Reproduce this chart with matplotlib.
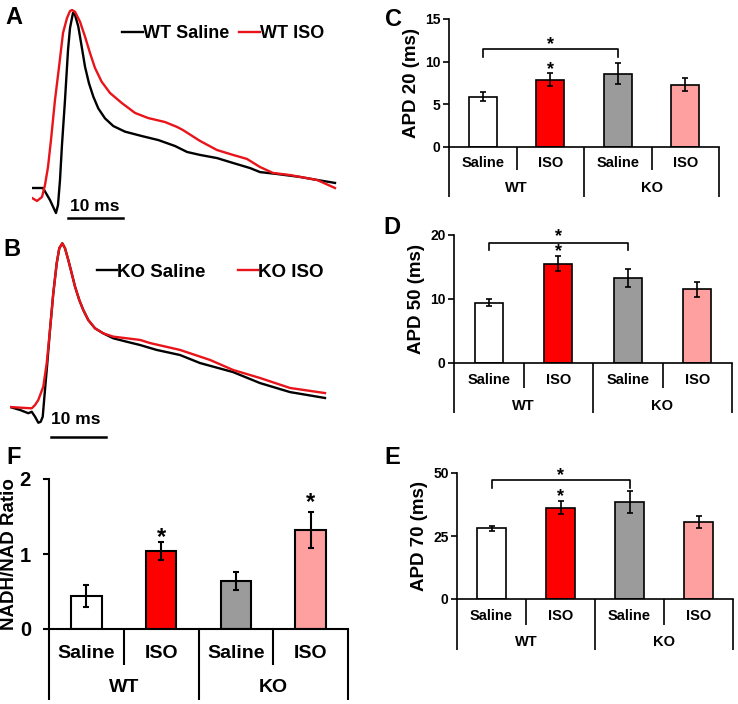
import matplotlib
matplotlib.use("Agg")
import matplotlib.pyplot as plt
from matplotlib.transforms import blended_transform_factory
import numpy as np

plt.rcParams['font.family'] = ['Liberation Sans', 'DejaVu Sans']
plt.rcParams['font.weight'] = 'bold'

W, H = 738, 704

# ---------------- Action potential traces (time in ms, normalised amplitude) ---------------
wt_saline_t = [0, 2.0, 3.27, 4.36, 4.73, 5.09, 5.45, 6.0, 6.55, 6.91, 7.45, 7.82, 8.42, 9.04,
               9.64, 10.36, 11.15, 12.05, 13.27, 14.78, 16.91, 19.95, 22.96, 26.0, 28.18, 30.55,
               33.64, 36.55, 39.64, 41.45, 44.55, 48.73, 51.82, 55.09]
wt_saline_v = [0, 0, -0.069, -0.143, -0.097, 0.046, 0.246, 0.503, 0.789, 0.914, 1.0, 0.989,
               0.922, 0.807, 0.693, 0.598, 0.522, 0.455, 0.398, 0.354, 0.322, 0.297, 0.274, 0.24,
               0.206, 0.189, 0.171, 0.143, 0.114, 0.091, 0.08, 0.063, 0.046, 0.029]
wt_iso_t = [0, 0.91, 1.82, 2.36, 2.91, 3.45, 4.18, 4.91, 5.64, 6.36, 6.91, 7.27, 7.82, 8.73,
            9.64, 10.55, 11.45, 12.67, 14.18, 16.31, 18.73, 21.09, 24.18, 26.36, 27.45, 30.55,
            33.64, 36.55, 39.09, 41.45, 43.82, 46.91, 51.82, 55.09]
wt_iso_v = [-0.057, -0.074, -0.051, 0.017, 0.12, 0.274, 0.503, 0.691, 0.886, 0.971, 1.011,
            1.017, 1.007, 0.95, 0.865, 0.771, 0.686, 0.607, 0.543, 0.486, 0.429, 0.4, 0.377,
            0.349, 0.331, 0.269, 0.217, 0.189, 0.166, 0.12, 0.086, 0.074, 0.046, 0.0]
ko_saline_t = [0, 1.82, 3.33, 3.95, 4.55, 5.15, 5.58, 5.95, 6.36, 6.78, 7.27, 7.87, 8.49, 8.96,
               9.51, 10.0, 10.6, 11.22, 11.82, 12.6, 13.33, 14.24, 15.45, 16.96, 18.78, 21.22,
               23.64, 26.67, 30.91, 34.55, 40.55, 45.45, 50.91, 57.27]
ko_saline_v = [0, -0.018, -0.038, -0.029, -0.059, -0.096, -0.09, -0.059, 0.104, 0.266, 0.47,
               0.693, 0.876, 0.968, 0.998, 0.968, 0.896, 0.815, 0.734, 0.652, 0.591, 0.53, 0.48,
               0.449, 0.419, 0.398, 0.378, 0.348, 0.317, 0.268, 0.213, 0.146, 0.091, 0.055]
ko_iso_t = [0, 1.82, 3.95, 4.55, 5.15, 6.05, 6.67, 7.27, 7.87, 8.49, 8.96, 9.51, 10.0, 10.6,
            11.22, 11.82, 12.6, 13.33, 14.24, 15.45, 16.96, 18.78, 21.22, 23.64, 25.45, 30.91,
            36.36, 40.55, 45.45, 50.91, 57.27]
ko_iso_v = [0, -0.004, -0.008, 0.012, 0.043, 0.124, 0.266, 0.47, 0.693, 0.876, 0.968, 0.998,
            0.968, 0.896, 0.815, 0.734, 0.652, 0.591, 0.53, 0.48, 0.449, 0.429, 0.419, 0.409,
            0.39, 0.348, 0.287, 0.226, 0.177, 0.116, 0.085]

# ---------------- Bar data ---------------
groups = ['WT', 'KO']
treatments = ['Saline', 'ISO', 'Saline', 'ISO']
bar_colors = ['white', '#ff0000', '#9b9b9b', '#ffa0a0']

apd20_mean = [5.9, 7.9, 8.6, 7.3]
apd20_err = [0.5, 0.8, 1.2, 0.75]
apd50_mean = [9.4, 15.5, 13.3, 11.5]
apd50_err = [0.55, 1.2, 1.45, 1.2]
apd70_mean = [28.1, 36.3, 38.6, 30.4]
apd70_err = [1.0, 2.4, 4.4, 2.4]
nadh_mean = [0.44, 1.04, 0.64, 1.32]
nadh_err = [0.15, 0.12, 0.12, 0.235]

fig = plt.figure(figsize=(W / 100, H / 100), dpi=100)


def px_axes(left, top, right, bottom):
    return fig.add_axes([left / W, 1 - bottom / H, (right - left) / W, (bottom - top) / H])


# ---------------- Trace panels ---------------
def trace_panel(box, xlim, ylim, t1, v1, t2, v2, lab1, lab2, bar_t0, bar_v, txt_t, txt_v, txt_ha,
                leg_xy, colsp, leg_fs, hlen):
    ax = px_axes(*box)
    ax.plot(t1, v1, color='black', lw=1.7, label=lab1, solid_joinstyle='round')
    ax.plot(t2, v2, color='#e8141a', lw=1.7, label=lab2, solid_joinstyle='round')
    ax.set_xlim(*xlim)
    ax.set_ylim(*ylim)
    ax.axis('off')
    ax.plot([bar_t0, bar_t0 + 10], [bar_v, bar_v], color='black', lw=1.8, clip_on=False)
    ax.text(txt_t, txt_v, '10 ms', ha=txt_ha, va='center', fontsize=12.5, fontweight='bold')
    ax.legend(loc='center left', bbox_to_anchor=(leg_xy[0] / W, 1 - leg_xy[1] / H),
              bbox_transform=fig.transFigure, ncol=2, frameon=False, handlelength=hlen,
              handletextpad=0.0, columnspacing=colsp, borderpad=0, borderaxespad=0,
              prop={'size': leg_fs, 'weight': 'bold'})
    return ax


trace_panel((32, 4.25, 340, 223), (0, 56), (-0.2, 1.05), wt_saline_t, wt_saline_v, wt_iso_t,
            wt_iso_v, 'WT Saline', 'WT ISO', 6.55, -0.171, 11.5, -0.103, 'center', (122, 34),
            0.55, 13, 1.15)
trace_panel((10, 234.8, 329, 431.6), (0, 58), (-0.15, 1.05), ko_saline_t, ko_saline_v, ko_iso_t,
            ko_iso_v, 'KO Saline', 'KO ISO', 7.45, -0.183, 7.45, -0.079, 'left', (97, 272),
            1.75, 13.5, 1.05)


# ---------------- Bar panels ---------------
def bar_panel(box, means, errs, ylim, yticks, ylabel, short_px, long_px, lab1_px, lab2_px,
              fs_tick, fs_cat, fs_label, bar_w, lw, ylabel_pad, tick_pad):
    ax = px_axes(*box)
    ax_h = box[3] - box[1]
    x = np.arange(4)
    ax.bar(x, means, width=bar_w, color=bar_colors, edgecolor='black', linewidth=lw, zorder=2)
    ax.errorbar(x, means, yerr=errs, fmt='none', ecolor='black', elinewidth=lw, capsize=2,
                capthick=lw, zorder=3)
    ax.set_xlim(-0.5, 3.5)
    ax.set_ylim(*ylim)
    ax.set_yticks(yticks)
    ax.set_xticks([])
    for s in ('top', 'right'):
        ax.spines[s].set_visible(False)
    for s in ('left', 'bottom'):
        ax.spines[s].set_linewidth(lw)
    ax.tick_params(axis='y', direction='out', length=4, width=lw, labelsize=fs_tick,
                   pad=tick_pad)
    for lbl in ax.get_yticklabels():
        lbl.set_fontweight('bold')
    ax.set_ylabel(ylabel, fontsize=fs_label, fontweight='bold', labelpad=ylabel_pad)
    trans = blended_transform_factory(ax.transData, ax.transAxes)
    for xd, L in [(-0.5, long_px), (0.5, short_px), (1.5, long_px), (2.5, short_px),
                  (3.5, long_px)]:
        ax.plot([xd, xd], [0, -L / ax_h], transform=trans, color='black', lw=lw, clip_on=False,
                solid_capstyle='butt')
    for i, t in enumerate(treatments):
        ax.text(i, -lab1_px / ax_h, t, transform=trans, ha='center', va='center',
                fontsize=fs_cat, fontweight='bold')
    for j, g in enumerate(groups):
        ax.text(2 * j + 0.5, -lab2_px / ax_h, g, transform=trans, ha='center', va='center',
                fontsize=fs_cat, fontweight='bold')
    return ax


def bracket(ax, top, end, lw):
    ax.plot([0, 0, 2, 2], [end, top, top, end], color='black', lw=lw, clip_on=False)


def star(ax, x, y, fs, txt='*', ls=1.2):
    ax.text(x, y, txt, ha='center', va='center', fontsize=fs, fontweight='bold',
            linespacing=ls)


axC = bar_panel((449, 19, 719, 147), apd20_mean, apd20_err, (0, 15), [0, 5, 10, 15],
                'APD 20 (ms)', 23, 50, 16, 41, 10, 10.5, 13.5, 0.41, 1.2, 4, 2)
bracket(axC, 11.47, 10.6, 1.2)
star(axC, 1, 12.0, 13)
star(axC, 1, 9.1, 13)

axD = bar_panel((454, 235, 732, 363), apd50_mean, apd50_err, (0, 20), [0, 10, 20],
                'APD 50 (ms)', 25, 50, 17, 43, 10, 10.5, 13.5, 0.40, 1.2, 4, 2)
bracket(axD, 18.8, 17.6, 1.2)
# bracket star and ISO star stacked closely above the WT ISO bar
star(axD, 1, 18.55, 13, '*\n*', 0.85)

axE = bar_panel((457, 473, 733, 599), apd70_mean, apd70_err, (0, 50), [0, 25, 50],
                'APD 70 (ms)', 26, 51, 17, 43, 10, 10.5, 13.5, 0.41, 1.2, 4, 2)
bracket(axE, 47.1, 44, 1.2)
star(axE, 1, 49.0, 13)
star(axE, 1, 40.8, 13)

axF = bar_panel((49, 479, 348, 629), nadh_mean, nadh_err, (0, 2), [0, 1, 2],
                'NADH/NAD Ratio', 36, 71, 24, 59, 14.5, 14, 13.5, 0.41, 1.5, 1, 9)
star(axF, 1, 1.22, 17)
star(axF, 3, 1.68, 17)

# ---------------- Panel letters ---------------
for letter, (px, py) in {'A': (14, 17), 'B': (12, 249), 'C': (394, 19), 'D': (392, 227),
                          'E': (392, 457), 'F': (14, 457)}.items():
    fig.text(px / W, 1 - py / H, letter, ha='center', va='center', fontsize=17,
             fontweight='bold')

fig.savefig('out.png', dpi=100)
